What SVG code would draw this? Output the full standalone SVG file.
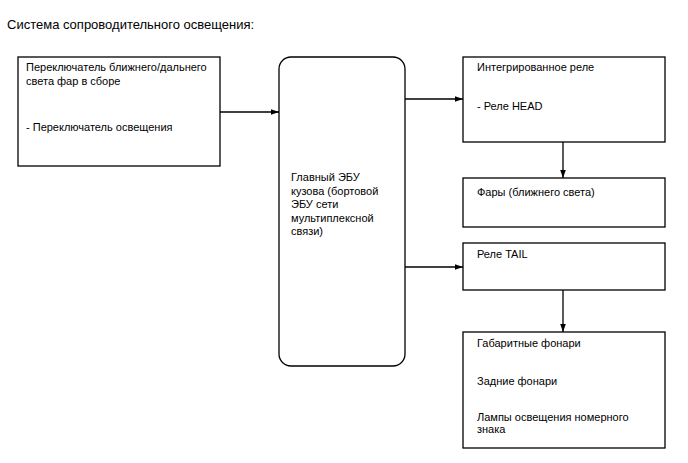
<svg xmlns="http://www.w3.org/2000/svg" width="688" height="463" viewBox="0 0 688 463">
<style>
text{font-family:"Liberation Sans",Arial,sans-serif;font-size:11px;fill:#000}
.t{font-size:13px}
.b{fill:#fff;stroke:#000;stroke-width:1.3}
.c{stroke:#000;stroke-width:1.3;fill:none;marker-end:url(#a)}
</style>
<defs>
<marker id="a" viewBox="0 0 10 10" refX="10" refY="5" markerWidth="8" markerHeight="8" markerUnits="userSpaceOnUse" orient="auto">
<path d="M0,1.5 L10,5 L0,8.5 Z" fill="#000"/>
</marker>
</defs>
<rect width="688" height="463" fill="#fff"/>
<text class="t" x="7" y="29">Система сопроводительного освещения:</text>
<g id="n1">
<rect class="b" x="18" y="57" width="202" height="109"/>
<text x="26" y="71">Переключатель ближнего/дальнего</text>
<text x="26" y="85">света фар в сборе</text>
<text x="26" y="131">- Переключатель освещения</text>
</g>
<g id="n2">
<rect class="b" x="279" y="57" width="126" height="309" rx="12" ry="12"/>
<text x="291" y="181">Главный ЭБУ</text>
<text x="291" y="194.5">кузова (бортовой</text>
<text x="291" y="208">ЭБУ сети</text>
<text x="291" y="221.5">мультиплексной</text>
<text x="291" y="235">связи)</text>
</g>
<g id="n3">
<rect class="b" x="463" y="57" width="202" height="85"/>
<text x="477" y="71">Интегрированное реле</text>
<text x="477" y="110">- Реле HEAD</text>
</g>
<g id="n4">
<rect class="b" x="463" y="178" width="202" height="49"/>
<text x="477" y="196">Фары (ближнего света)</text>
</g>
<g id="n5">
<rect class="b" x="463" y="243" width="202" height="47"/>
<text x="477" y="258">Реле TAIL</text>
</g>
<g id="n6">
<rect class="b" x="463" y="332" width="202" height="116"/>
<text x="477" y="347">Габаритные фонари</text>
<text x="477" y="385">Задние фонари</text>
<text x="477" y="421">Лампы освещения номерного</text>
<text x="477" y="433">знака</text>
</g>
<g id="connectors">
<line class="c" x1="220" y1="112" x2="279" y2="112"/>
<line class="c" x1="405" y1="99" x2="463" y2="99"/>
<line class="c" x1="405" y1="267" x2="463" y2="267"/>
<line class="c" x1="563" y1="142" x2="563" y2="178"/>
<line class="c" x1="563" y1="290" x2="563" y2="332"/>
</g>
</svg>
